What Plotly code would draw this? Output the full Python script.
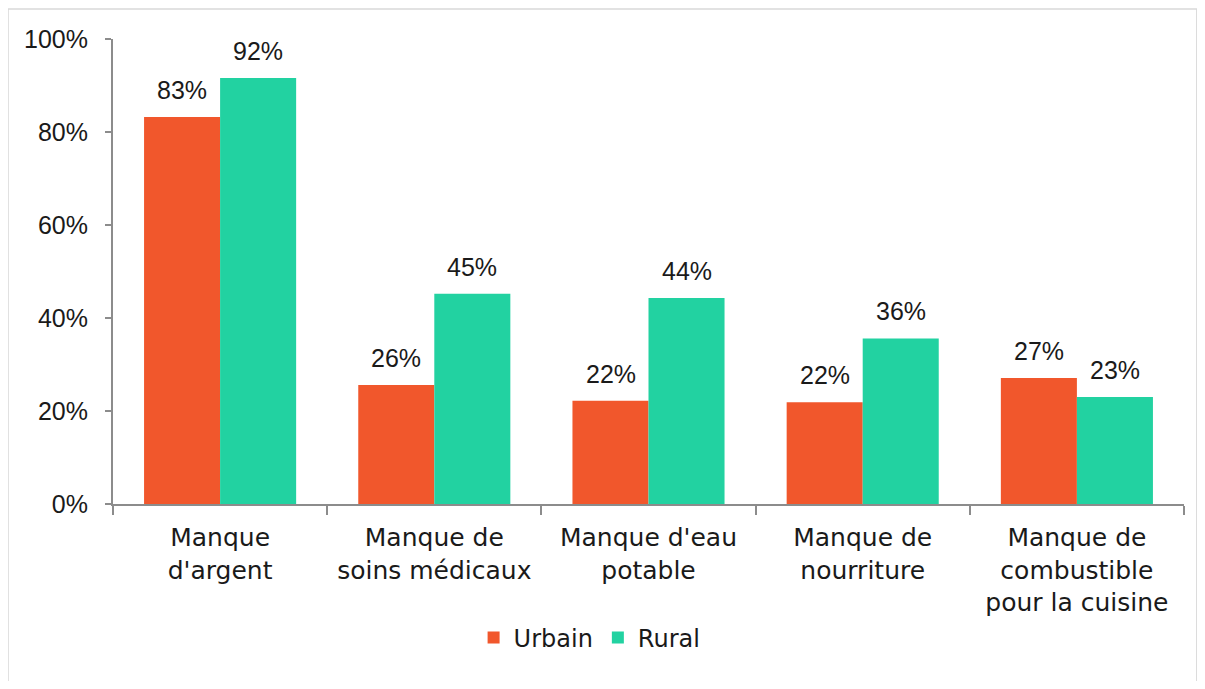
import plotly.graph_objects as go

categories = ["Manque<br>d'argent", "Manque de<br>soins médicaux", "Manque d'eau<br>potable",
              "Manque de<br>nourriture", "Manque de<br>combustible<br>pour la cuisine"]
urbain = [83.2, 25.6, 22.2, 21.9, 27.1]
rural = [91.6, 45.2, 44.3, 35.6, 23.0]
urbain_labels = ["83%", "26%", "22%", "22%", "27%"]
rural_labels = ["92%", "45%", "44%", "36%", "23%"]
yticks = [0, 20, 40, 60, 80, 100]
yticklabels = ["0%", "20%", "40%", "60%", "80%", "100%"]

WORD_FONT = "DejaVu Sans"
NUM_FONT = "Liberation Sans"
TXT = "#1a1a1a"
fig = go.Figure()
fig.add_trace(go.Bar(name="Urbain", x=categories, y=urbain, marker_color="#F1572C",
                     marker_line_width=0))
fig.add_trace(go.Bar(name="Rural", x=categories, y=rural, marker_color="#22D2A1",
                     marker_line_width=0))

BAR_HALF = 38
for vals, labels, sign in [(urbain, urbain_labels, -1), (rural, rural_labels, 1)]:
    for cat, v, lab in zip(categories, vals, labels):
        fig.add_annotation(x=cat, y=v, text=lab, showarrow=False, xshift=sign * BAR_HALF,
                           yanchor="bottom", yshift=11,
                           font=dict(family=NUM_FONT, size=25, color=TXT))

fig.update_layout(
    width=1189, height=673,
    margin=dict(l=105, r=13, t=31, b=177),
    barmode="group", bargap=0.29, bargroupgap=0,
    plot_bgcolor="white", paper_bgcolor="white",
    font=dict(family=WORD_FONT, size=24, color=TXT),
    showlegend=True,
    legend=dict(orientation="h", x=0.445, xanchor="center", y=-0.288, yanchor="middle",
                font=dict(size=24), itemwidth=30, traceorder="normal"),
)
fig.update_xaxes(showline=True, linecolor="#8c8c8c", linewidth=2, ticks="outside",
                 tickson="boundaries", ticklen=9, tickcolor="#8c8c8c", tickwidth=2,
                 showgrid=False, tickfont=dict(size=25), tickangle=0, ticklabelstandoff=10)
fig.update_yaxes(range=[0, 100], tickvals=yticks, ticktext=yticklabels, showline=True,
                 linecolor="#8c8c8c", linewidth=2, ticks="outside", ticklen=6,
                 tickcolor="#8c8c8c", tickwidth=2, showgrid=False, zeroline=False,
                 tickfont=dict(family=NUM_FONT, size=25), ticklabelstandoff=12)
fig.add_shape(type="rect", xref="paper", yref="paper", x0=-0.098, x1=1.012,
              y0=-0.45, y1=1.0645, line=dict(color="#D9D9D9", width=1.5), layer="below")
fig.write_html("out.html")
